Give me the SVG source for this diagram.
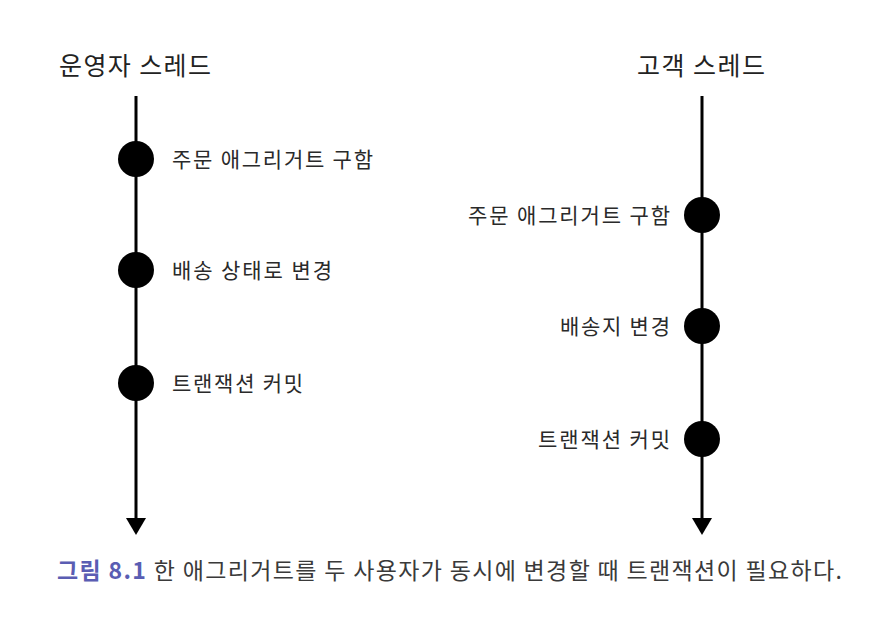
<svg xmlns="http://www.w3.org/2000/svg" width="876" height="622" viewBox="0 0 876 622">
<style>
.t{font-family:"Noto Sans CJK KR","Noto Sans",sans-serif;fill:#222}
.title{font-size:25px}
.lbl{font-size:21px;fill:#2a2a2a}
.cap{font-size:23px;fill:#3a3a3a}
.capb{font-weight:bold;fill:#5a5db3}
.line{stroke:#000;stroke-width:3;fill:none}
.dot{fill:#000}
</style>
<rect width="876" height="622" fill="#fff"/>
<g id="connectors">
<line class="line" x1="136" y1="96" x2="136" y2="520"/>
<polygon points="126,518 146,518 136,535" fill="#000"/>
<line class="line" x1="702" y1="96" x2="702" y2="520"/>
<polygon points="692,518 712,518 702,535" fill="#000"/>
</g>
<g id="operator-title"><text class="t title" x="59" y="75" textLength="152" lengthAdjust="spacing">운영자 스레드</text></g>
<g id="customer-title"><text class="t title" x="637" y="75" textLength="128" lengthAdjust="spacing">고객 스레드</text></g>
<g id="op1"><circle class="dot" cx="136" cy="159" r="18"/><text class="t lbl" x="172" y="167" textLength="201" lengthAdjust="spacing">주문 애그리거트 구함</text></g>
<g id="op2"><circle class="dot" cx="136" cy="270" r="18"/><text class="t lbl" x="172" y="278" textLength="160" lengthAdjust="spacing">배송 상태로 변경</text></g>
<g id="op3"><circle class="dot" cx="136" cy="383" r="18"/><text class="t lbl" x="172" y="391" textLength="131" lengthAdjust="spacing">트랜잭션 커밋</text></g>
<g id="cu1"><circle class="dot" cx="702" cy="215" r="18"/><text class="t lbl" x="468" y="223" textLength="202" lengthAdjust="spacing">주문 애그리거트 구함</text></g>
<g id="cu2"><circle class="dot" cx="702" cy="326" r="18"/><text class="t lbl" x="560" y="334" textLength="110" lengthAdjust="spacing">배송지 변경</text></g>
<g id="cu3"><circle class="dot" cx="702" cy="439" r="18"/><text class="t lbl" x="538" y="447" textLength="132" lengthAdjust="spacing">트랜잭션 커밋</text></g>
<g id="caption"><text class="t cap" x="57" y="579" textLength="785" lengthAdjust="spacing"><tspan class="capb">그림 8.1</tspan> 한 애그리거트를 두 사용자가 동시에 변경할 때 트랜잭션이 필요하다.</text></g>
</svg>
